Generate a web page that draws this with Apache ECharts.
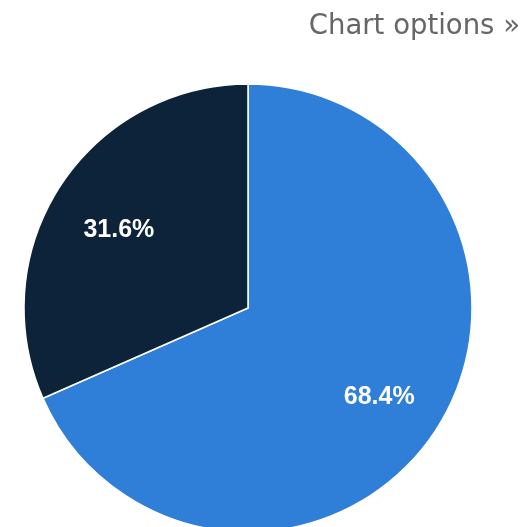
<!DOCTYPE html>
<html><head><meta charset="utf-8">
<script src="https://cdn.jsdelivr.net/npm/echarts@6/dist/echarts.min.js"></script>
<style>html,body{margin:0;padding:0;background:#fff}#c{width:526px;height:527px}</style>
</head><body><div id="c"></div>
<script>
const categories = ['A', 'B'];
const values = [68.4, 31.6];
const colors = ['#2f7ed8', '#0d233a'];

const labelOffsets = [[-2, 2], [4, 9]];
const chart = echarts.init(document.getElementById('c'));
const data = categories.map((n, i) => ({ name: n, value: values[i], itemStyle: { color: colors[i] } }));
chart.setOption({
  animation: false,
  graphic: [{
    type: 'text', right: 6, top: 13,
    style: { text: 'Chart options »', font: '27.5px "DejaVu Sans"', fill: '#666666' }
  }],
  series: [{
    type: 'pie', center: [248, 308], radius: 224, startAngle: 90, clockwise: true,
    label: { show: false }, labelLine: { show: false },
    itemStyle: { borderColor: '#ffffff', borderWidth: 1.5 },
    silent: true,
    data: data
  }, {
    type: 'pie', center: [248, 308], radius: [88, 224], startAngle: 90, clockwise: true,
    silent: true,
    itemStyle: { color: 'transparent', borderWidth: 0 },
    label: { show: true, position: 'inside', formatter: p => p.value.toFixed(1) + '%',
      color: '#ffffff', fontSize: 25, fontWeight: 'bold', fontFamily: '"Liberation Sans", Arial, sans-serif' },
    labelLine: { show: false },
    data: categories.map((n, i) => ({ name: n, value: values[i], itemStyle: { color: 'transparent' },
      label: { offset: labelOffsets[i] } }))
  }]
});
</script></body></html>
